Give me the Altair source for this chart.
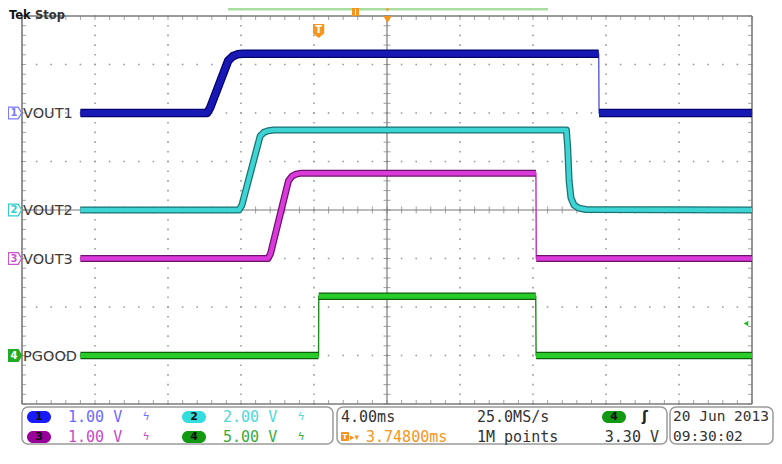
import altair as alt
import numpy as np
import pandas as pd

CH_NAMES = ["VOUT1", "VOUT2", "VOUT3", "PGOOD"]
CH_NUMS = ["1", "2", "3", "4"]
CH_VDIV = [1.0, 2.0, 1.0, 5.0]          # volts per division
CH_OFFSET = [2.0, 0.0, -1.0, -3.0]      # ground marker position, divisions
CH_SCALE_LABELS = ["1.00 V", "2.00 V", "1.00 V", "5.00 V"]

# time in ms (0 = screen centre), level in volts, segment id for the noisy band
T1 = [-16.8, -9.86, -9.70, -8.70, -8.45, -8.20, -7.90, 11.60, 11.62, 20.0]
V1 = [0.0, 0.0, 0.10, 1.08, 1.17, 1.21, 1.22, 1.22, 0.0, 0.0]
S1 = [0, 0, 0, 0, 0, 0, 0, 0, 1, 1]

T2 = [-16.8, -8.11, -7.95, -6.95, -6.75, -6.50, -6.20, 9.83, 9.90, 9.98, 10.08, 10.25, 10.50, 10.9, 20.0]
V2 = [0.0, 0.0, 0.20, 3.05, 3.20, 3.27, 3.30, 3.30, 2.60, 1.20, 0.50, 0.20, 0.08, 0.02, 0.0]
S2 = [0] * 15

T3 = [-16.8, -6.52, -6.38, -5.40, -5.20, -4.98, -4.70, 8.16, 8.18, 20.0]
V3 = [0.0, 0.0, 0.10, 1.60, 1.70, 1.74, 1.76, 1.76, 0.0, 0.0]
S3 = [0, 0, 0, 0, 0, 0, 0, 0, 1, 1]

T4 = [-16.8, -3.75, -3.74, 8.15, 8.17, 20.0]
V4 = [0.0, 0.0, 6.1, 6.1, 0.0, 0.0]
S4 = [0, 0, 1, 1, 2, 2]

TRIG_TIME = -3.748        # ms
TRIG_LEVEL = 3.30         # V on channel 4
TIMEBASE = "4.00ms"
SAMPLE_RATE = "25.0MS/s"
RECORD = "1M points"
TRIG_POS = "3.74800ms"
TRIG_LEVEL_LABEL = "3.30 V"
DATE = "20 Jun 2013"
CLOCK = "09:30:02"

# ---------------- layout / style ----------------
M = 8                     # page margin
W, H = 766, 456           # chart size
CX, CY = 387, 210         # screen centre (page pixels)
DX, DY = 73.0, 48.5       # pixels per division
MS_PER_DIV = 4.0

XS = alt.Scale(domain=[(M - CX) / DX * MS_PER_DIV, (M + W - CX) / DX * MS_PER_DIV], nice=False, zero=False)
YS = alt.Scale(domain=[(CY - (M + H)) / DY, (CY - M) / DY], nice=False, zero=False)

THIN = ["#5a5ad8", "#30c0c0", "#c030c0", "#1f8a1f"]
DARK = ["#00006e", "#1a7272", "#6e106e", "#0e5e0e"]
BRIGHT = ["#1818b4", "#3ed4d4", "#da3ada", "#28cc28"]
BAND = [8.5, 7, 7, 7.5]
MARK_COL = ["#7b7bff", "#33cccc", "#cc55cc", "#22aa22"]

MONO = "DejaVu Sans Mono"
SANS = "DejaVu Sans"
GRID = "#9a9a9a"
FRAME = "#7a7a7a"
ORANGE = "#f7941d"


def X(f="t"):
    return alt.X(f"{f}:Q", scale=XS, axis=None)


def Y(f="y"):
    return alt.Y(f"{f}:Q", scale=YS, axis=None)


base = alt.Chart(pd.DataFrame({"k": [0]}))


def txt(s, px, py, color="#333333", size=15, font=MONO, weight="normal", align="left", baseline="middle"):
    return base.mark_text(text=s, color=color, fontSize=size, font=font, fontWeight=weight,
                          align=align, baseline=baseline).encode(x=alt.value(px - M), y=alt.value(py - M))


def rect(x1, y1, x2, y2, fill, stroke=None, r=0, sw=1.0):
    kw = dict(fill=fill, cornerRadius=r)
    if stroke:
        kw.update(stroke=stroke, strokeWidth=sw)
    return base.mark_rect(**kw).encode(x=alt.value(x1 - M), x2=alt.value(x2 - M),
                                       y=alt.value(y1 - M), y2=alt.value(y2 - M))


layers = []

# ---------------- graticule ----------------
maj_t = np.arange(-20, 20.01, MS_PER_DIV)
maj_y = np.arange(-4, 4.01, 1.0)
min_t = np.arange(-20, 20.01, MS_PER_DIV / 5)
min_y = np.arange(-4, 4.01, 0.2)

dots = []
for t in maj_t[1:-1]:
    if abs(t) > 1e-9:
        dots += [(t, y) for y in min_y]
for y in maj_y[1:-1]:
    if abs(y) > 1e-9:
        dots += [(t, y) for t in min_t]
dots = pd.DataFrame(dots, columns=["t", "y"])
layers.append(alt.Chart(dots).mark_square(size=2.5, color=GRID, opacity=1).encode(x=X(), y=Y()))

border = pd.DataFrame({"t": [-20, -20, -20, 20], "t2": [20, 20, -20, 20],
                       "y": [4, -4, -4, -4], "y2": [4, -4, 4, 4]})
layers.append(alt.Chart(border).mark_rule(color=FRAME, strokeWidth=1.6).encode(
    x=X(), x2="t2:Q", y=Y(), y2="y2:Q"))
cross = pd.DataFrame({"t": [0, -20], "t2": [0, 20], "y": [-4, 0], "y2": [4, 0]})
layers.append(alt.Chart(cross).mark_rule(color=FRAME, strokeWidth=1.2).encode(
    x=X(), x2="t2:Q", y=Y(), y2="y2:Q"))

# minor ticks on the frame and on the centre cross
vt_top = pd.DataFrame({"t": min_t, "y": 4.0})
vt_bot = pd.DataFrame({"t": min_t, "y": -4.0})
vt_mid = pd.DataFrame({"t": min_t, "y": 0.0})
ht_left = pd.DataFrame({"t": -20.0, "y": min_y})
ht_right = pd.DataFrame({"t": 20.0, "y": min_y})
ht_mid = pd.DataFrame({"t": 0.0, "y": min_y})

layers.append(alt.Chart(vt_top).mark_tick(orient="vertical", size=4, thickness=1, color=FRAME, yOffset=2)
              .encode(x=X(), y=Y()))
layers.append(alt.Chart(vt_bot).mark_tick(orient="vertical", size=4, thickness=1, color=FRAME, yOffset=-2)
              .encode(x=X(), y=Y()))
layers.append(alt.Chart(vt_mid).mark_tick(orient="vertical", size=7, thickness=1, color=FRAME)
              .encode(x=X(), y=Y()))
layers.append(alt.Chart(ht_left).mark_tick(orient="horizontal", size=4, thickness=1, color=FRAME, xOffset=2)
              .encode(x=X(), y=Y()))
layers.append(alt.Chart(ht_right).mark_tick(orient="horizontal", size=4, thickness=1, color=FRAME, xOffset=-2)
              .encode(x=X(), y=Y()))
layers.append(alt.Chart(ht_mid).mark_tick(orient="horizontal", size=7, thickness=1, color=FRAME)
              .encode(x=X(), y=Y()))

# ---------------- traces ----------------
rows = []
for i, (T, V, S) in enumerate([(T1, V1, S1), (T2, V2, S2), (T3, V3, S3), (T4, V4, S4)]):
    for t, v, s in zip(T, V, S):
        rows.append(dict(ch=i, t=t, y=CH_OFFSET[i] + v / CH_VDIV[i], seg=f"{i}-{s}"))
tr = pd.DataFrame(rows)

for i in range(4):
    d = alt.Chart(tr[tr.ch == i])
    layers.append(d.mark_line(color=THIN[i], strokeWidth=1.4).encode(x=X(), y=Y(), order="t:Q"))
    layers.append(d.mark_line(color=DARK[i], strokeWidth=BAND[i], strokeJoin="round")
                  .encode(x=X(), y=Y(), detail="seg:N", order="t:Q"))
    layers.append(d.mark_line(color=BRIGHT[i], strokeWidth=BAND[i] - 2.5, strokeJoin="round")
                  .encode(x=X(), y=Y(), detail="seg:N", order="t:Q"))

# ---------------- channel markers and names ----------------
chdf = pd.DataFrame({"name": CH_NAMES, "num": CH_NUMS, "off": CH_OFFSET, "col": MARK_COL,
                     "fill": ["#ffffff", "#ffffff", "#ffffff", "#22aa22"],
                     "ncol": [MARK_COL[0], MARK_COL[1], MARK_COL[2], "#ffffff"]})
TAG = "M -0.95 -0.85 L 0.45 -0.85 L 0.95 0 L 0.45 0.85 L -0.95 0.85 Z"
layers.append(alt.Chart(chdf).mark_point(shape=TAG, size=196, filled=True, strokeWidth=1.3, opacity=1)
              .encode(x=alt.value(15 - M), y=Y("off"),
                      stroke=alt.Stroke("col:N", scale=None), fill=alt.Fill("fill:N", scale=None)))
layers.append(alt.Chart(chdf).mark_text(fontSize=10, font=SANS, fontWeight="bold", baseline="middle")
              .encode(x=alt.value(14 - M), y=Y("off"), text="num:N", color=alt.Color("ncol:N", scale=None)))
layers.append(alt.Chart(chdf).mark_text(fontSize=14.5, font=SANS, align="left", baseline="middle",
                                        color="#3a3a3a", dy=1)
              .encode(x=alt.value(23 - M), y=Y("off"), text="name:N"))

# trigger level arrow (ch4) at the right edge
trig = pd.DataFrame({"y": [CH_OFFSET[3] + TRIG_LEVEL / CH_VDIV[3]], "t": [TRIG_TIME]})
layers.append(alt.Chart(trig).mark_point(shape="triangle-left", size=28, filled=True, color="#22bb22", opacity=1)
              .encode(x=alt.value(746 - M), y=Y()))

# trigger position badge
SHIELD = "M -0.8 -1 L 0.8 -1 L 0.8 0.35 L 0 1 L -0.8 0.35 Z"
layers.append(alt.Chart(trig).mark_point(shape=SHIELD, size=196, filled=True, color=ORANGE, opacity=1)
              .encode(x=X(), y=alt.value(31 - M)))
layers.append(alt.Chart(trig).mark_text(text="T", fontSize=10, font=SANS, fontWeight="bold", color="white",
                                        baseline="middle").encode(x=X(), y=alt.value(30 - M)))

# ---------------- top strip ----------------
layers.append(txt("Tek", 9, 10, color="#111111", size=11.5, font=SANS, weight="bold", baseline="top"))
layers.append(txt("Stop", 35, 10, color="#333333", size=11.5, font=SANS, weight="bold", baseline="top"))
layers.append(rect(228, 8, 548, 10.5, "#a8dfa0"))
layers.append(rect(352, 8, 359, 16, ORANGE))
layers.append(rect(355, 9, 356, 15, "#ffffff"))
layers.append(base.mark_point(shape="triangle-down", size=70, filled=True, color=ORANGE, opacity=1)
              .encode(x=alt.value(387.5 - M), y=alt.value(19.5 - M)))
layers.append(base.mark_point(shape="triangle-down", size=14, filled=True, color=ORANGE, opacity=1)
              .encode(x=alt.value(387.5 - M), y=alt.value(10 - M)))

# ---------------- bottom status panel ----------------
layers.append(rect(22, 407, 333, 444, "#ffffff", "#9a9a9a", 6, 1.5))
layers.append(rect(337, 407, 667, 444, "#ffffff", "#9a9a9a", 6, 1.5))
layers.append(rect(670, 407, 773, 444, "#ffffff", "#9a9a9a", 6, 1.5))

R1, R2 = 417, 437
OVAL = ["#1a1aff", "#33dddd", "#990099", "#119911"]
SCALE_COL = ["#6b6bff", "#4fd8d8", "#c64bc6", "#3aaa3a"]
pos = [(27, R1), (182, R1), (27, R2), (182, R2)]
for i in range(4):
    x0, yc = pos[i]
    layers.append(rect(x0, yc - 6, x0 + 24, yc + 6, OVAL[i], r=6))
    layers.append(txt(CH_NUMS[i], x0 + 12, yc, color="#111111", size=11, font=SANS, weight="bold", align="center"))
    layers.append(txt(CH_SCALE_LABELS[i], x0 + 41, yc, color=SCALE_COL[i], size=15))
    layers.append(txt("ϟ", x0 + 119, yc, color=SCALE_COL[i], size=11, font=SANS, align="center"))

layers.append(txt(TIMEBASE, 341, R1))
layers.append(rect(341, R2 - 5, 349, R2 + 4, ORANGE, r=1))
layers.append(txt("T", 345, R2, color="white", size=7, font=SANS, weight="bold", align="center"))
layers.append(txt("▸▾", 350, R2, color=ORANGE, size=9, font=SANS))
layers.append(txt(TRIG_POS, 366, R2, color=ORANGE, size=15))
layers.append(txt(SAMPLE_RATE, 477, R1))
layers.append(txt(RECORD, 477, R2))
layers.append(rect(602, R1 - 6, 626, R1 + 6, "#119911", r=6))
layers.append(txt("4", 614, R1, color="#111111", size=11, font=SANS, weight="bold", align="center"))
layers.append(txt("ʃ", 645, R1, color="#222222", size=14, font=SANS, weight="bold", align="center"))
layers.append(txt(TRIG_LEVEL_LABEL, 659, R2, align="right"))
layers.append(txt(DATE, 673, R1, size=14.5))
layers.append(txt(CLOCK, 673, R2, size=14.5))

chart = alt.layer(*layers).properties(
    width=W, height=H, padding=0, autosize=alt.AutoSizeParams(type="none"), background="white"
).configure_view(stroke=None)

chart.save("out.html", embed_options={"renderer": "svg", "actions": False})
